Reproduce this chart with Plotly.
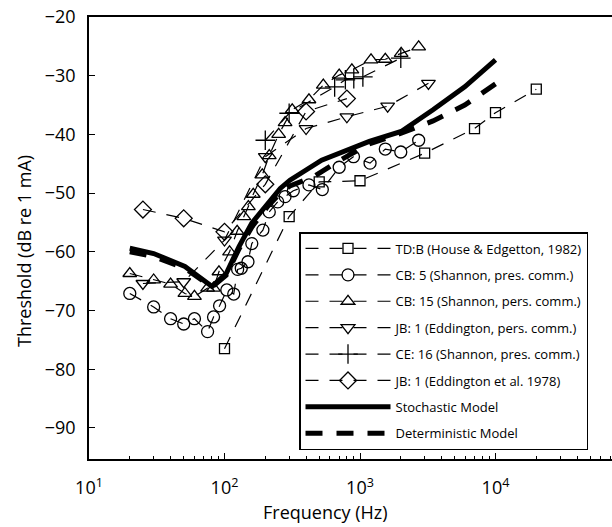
import plotly.graph_objects as go

# ---- data (frequency in Hz, threshold in dB re 1 mA) ----
tdb_f = [100, 300, 500, 1000, 3000, 7000, 10000, 20000]
tdb_v = [-76.5, -54.0, -48.1, -47.9, -43.2, -39.0, -36.3, -32.3]

cb5_f = [20, 30, 40, 50, 60, 75, 83, 92, 104, 117, 125, 133, 149, 159, 192, 214,
         247, 280, 322, 420, 527, 702, 895, 1186, 1537, 2000, 2710]
cb5_v = [-67.1, -69.4, -71.4, -72.3, -71.4, -73.6, -71.1, -69.2, -66.5, -67.2, -63.0,
         -62.8, -61.7, -58.6, -56.3, -53.2, -51.5, -50.6, -49.6, -48.6, -49.4, -45.6,
         -43.8, -44.9, -42.5, -43.0, -41.0]

cb15_f = [20, 30, 40, 51, 60, 75, 83, 91, 109, 124, 139, 150, 163, 190, 214, 251,
          280, 316, 420, 536, 702, 871, 1206, 1537, 2013, 2710]
cb15_v = [-63.7, -64.8, -65.5, -67.1, -67.6, -66.2, -66.2, -63.4, -60.0, -56.5, -54.0,
          -52.3, -50.2, -46.9, -43.6, -40.0, -38.0, -35.8, -34.1, -31.6, -29.9, -29.0,
          -27.3, -27.2, -26.2, -25.1]

jbp_f = [25, 50, 100, 200, 400, 800, 1600, 3200]
jbp_v = [-65.4, -65.1, -58.0, -43.8, -39.0, -37.0, -35.2, -31.3]

ce16_f = [200, 300, 650, 780, 900, 1050, 2000]
ce16_v = [-41.0, -36.4, -31.9, -30.7, -30.5, -30.2, -27.0]

jb78_f = [25, 50, 100, 200, 400, 800]
jb78_v = [-52.8, -54.3, -56.6, -48.5, -36.1, -33.9]

stoch_f = [20, 30, 51, 81, 103, 128, 159, 208, 258, 304, 521, 1172, 2014, 3460, 5930, 10000]
stoch_v = [-59.4, -60.3, -62.5, -65.9, -63.7, -59.1, -55.1, -51.7, -49.2, -47.8, -44.4,
           -41.2, -39.5, -35.8, -31.9, -27.3]

det_f = [20, 30, 51, 81, 103, 128, 159, 208, 258, 304, 455, 700, 1172, 2014, 3460, 5930, 10000]
det_v = [-60.0, -60.8, -62.8, -66.0, -64.0, -59.5, -55.8, -52.3, -50.0, -48.8, -47.2,
         -44.5, -41.6, -39.8, -37.7, -35.0, -31.4]

series = [
    ("TD:B (House &amp; Edgetton, 1982)", tdb_f, tdb_v, "square-open", 10),
    ("CB: 5 (Shannon, pres. comm.)", cb5_f, cb5_v, "circle-open", 12),
    ("CB: 15 (Shannon, pers. comm.)", cb15_f, cb15_v, "triangle-up-open", 12),
    ("JB: 1 (Eddington, pers. comm.)", jbp_f, jbp_v, "triangle-down-open", 12),
    ("CE: 16 (Shannon, pres. comm.)", ce16_f, ce16_v, "cross-thin-open", 14),
    ("JB: 1 (Eddington et al. 1978)", jb78_f, jb78_v, "diamond-open", 13),
]

FONT = "Open Sans"
DECADE = 135.5           # pixels per decade
PLOT_W = 612 - 89

fig = go.Figure()
for i, (name, f, v, sym, sz) in enumerate(series):
    fig.add_trace(go.Scatter(
        x=f, y=v, name=name, mode="lines+markers", legendgroup=f"g{i}",
        line=dict(color="black", width=1.2, dash="13px,11px"),
        marker=dict(symbol=sym, size=sz, color="black", line=dict(width=1.3, color="black")),
    ))

fig.add_trace(go.Scatter(x=stoch_f, y=stoch_v, name="Stochastic Model", mode="lines",
                         legendgroup="g6", line=dict(color="black", width=5)))
fig.add_trace(go.Scatter(x=det_f, y=det_v, name="Deterministic Model", mode="lines",
                         legendgroup="g7", line=dict(color="black", width=5, dash="17px,14px")))

minor_vals = [m * 10 ** e for e in range(1, 5) for m in range(2, 10)]

fig.update_layout(
    width=612, height=527,
    margin=dict(l=89, r=0, t=17, b=68),
    paper_bgcolor="white", plot_bgcolor="white",
    font=dict(family=FONT, color="black", size=18),
    showlegend=True,
    legend=dict(
        x=(299 - 89) / PLOT_W, y=(459 - 232) / 442, xanchor="left", yanchor="top",
        bordercolor="black", borderwidth=1.5, bgcolor="white",
        font=dict(family=FONT, size=13, color="black"),
        tracegroupgap=6.5, traceorder="grouped", itemwidth=85,
    ),
    xaxis=dict(
        type="log", range=[1, 1 + PLOT_W / DECADE],
        showline=True, linecolor="black", linewidth=1.5, mirror=True,
        ticks="inside", ticklen=6, tickwidth=1.2, tickcolor="black",
        tickvals=[10, 100, 1000, 10000],
        ticktext=["10<sup>1</sup>", "10<sup>2</sup>", "10<sup>3</sup>", "10<sup>4</sup>"],
        minor=dict(ticks="inside", ticklen=3, tickwidth=1, tickcolor="black",
                   tickvals=minor_vals, showgrid=False),
        showgrid=False, zeroline=False, ticklabelstandoff=12,
        tickfont=dict(size=18),
    ),
    yaxis=dict(
        range=[-95.3, -20],
        showline=True, linecolor="black", linewidth=1.5, mirror=False,
        ticks="inside", ticklen=6, tickwidth=1.2, tickcolor="black",
        tickvals=[-90, -80, -70, -60, -50, -40, -30, -20],
        showgrid=False, zeroline=False, ticklabelstandoff=8,
        tickfont=dict(size=18),
    ),
    annotations=[
        dict(text="Frequency (Hz)", xref="paper", yref="paper", x=(325 - 89) / PLOT_W,
             y=(459 - 512) / 442, xanchor="center", yanchor="middle", showarrow=False,
             font=dict(size=18)),
        dict(text="Threshold (dB re 1 mA)", xref="paper", yref="paper", x=(24 - 89) / PLOT_W,
             y=(459 - 251) / 442, xanchor="center", yanchor="middle", showarrow=False,
             textangle=-90, font=dict(size=18)),
    ],
)

fig.write_html("out.html")
